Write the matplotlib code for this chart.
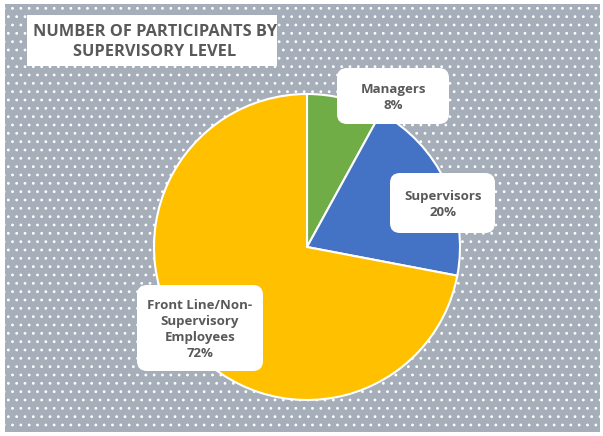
import matplotlib.pyplot as plt
from matplotlib.patches import Rectangle, FancyBboxPatch

# Chart data
categories = ["Managers", "Supervisors", "Front Line/Non-\nSupervisory\nEmployees"]
percents = [8, 20, 72]
colors = ["#70AD47", "#4472C4", "#FFC000"]
title = "NUMBER OF PARTICIPANTS BY\nSUPERVISORY LEVEL"

W, H = 603, 436
plt.rcParams["font.family"] = ["Open Sans", "DejaVu Sans"]
plt.rcParams["hatch.linewidth"] = 0.8

fig = plt.figure(figsize=(W / 100, H / 100), dpi=100)
fig.patch.set_facecolor("white")

# background axes in pixel coordinates (y down)
bgax = fig.add_axes([0, 0, 1, 1], zorder=0)
bgax.set_xlim(0, W)
bgax.set_ylim(H, 0)
bgax.axis("off")
bgax.add_patch(Rectangle((5, 4), 595, 428, facecolor="#a6aeba", edgecolor="white",
                         hatch="..", linewidth=0))

# pie axes: centre (307, 247) px, radius 153 px
cx, cy, r = 307, 247, 153
ax = fig.add_axes([(cx - r) / W, (H - cy - r) / H, 2 * r / W, 2 * r / H], zorder=1)
ax.pie(percents, colors=colors, startangle=90, counterclock=False, radius=1,
       wedgeprops=dict(edgecolor="white", linewidth=1.5))
ax.set_xlim(-1, 1)
ax.set_ylim(-1, 1)
ax.set_aspect("equal")
ax.axis("off")

# overlay for labels and title
top = fig.add_axes([0, 0, 1, 1], zorder=2)
top.set_xlim(0, W)
top.set_ylim(H, 0)
top.axis("off")
top.patch.set_alpha(0)

# label boxes (x0, y0, x1, y1) and text centres in pixels
boxes = [(337, 68, 449, 124), (390, 173, 495, 233), (137, 285, 263, 371)]
text_pos = [(393, 97), (443, 204), (200, 329)]
for cat, pct, (x0, y0, x1, y1), (tx, ty) in zip(categories, percents, boxes, text_pos):
    top.add_patch(FancyBboxPatch((x0 + 10, y0 + 10), x1 - x0 - 20, y1 - y0 - 20,
                                 boxstyle="round,pad=10,rounding_size=10",
                                 facecolor="white", edgecolor="none"))
    top.text(tx, ty, f"{cat}\n{pct}%", ha="center", va="center",
             fontsize=9.5, fontweight="bold", color="#595959", linespacing=1.3)

# title box
top.add_patch(Rectangle((27, 15), 250, 51, facecolor="white", edgecolor="none"))
top.text(155, 42, title, ha="center", va="center", fontsize=11.8,
         fontweight="bold", color="#595959", linespacing=1.4)

fig.savefig("out.png", dpi=100)
